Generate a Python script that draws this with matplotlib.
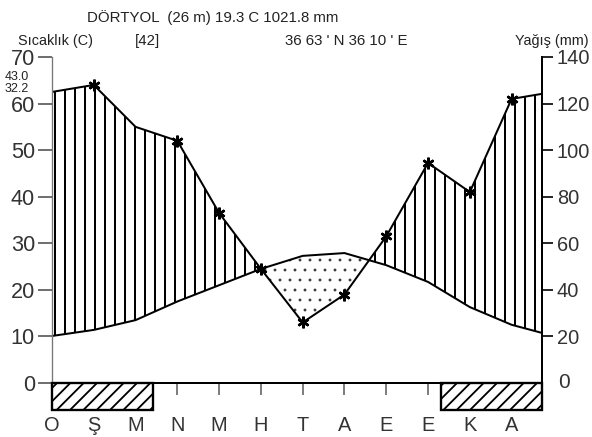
import matplotlib
matplotlib.use('Agg')
import matplotlib.pyplot as plt
import numpy as np
from matplotlib.patches import Rectangle

# ---- data ----
months = ['O', 'Ş', 'M', 'N', 'M', 'H', 'T', 'A', 'E', 'E', 'K', 'A']
temp = [10.1, 11.4, 13.5, 17.5, 21.0, 24.5, 27.3, 27.9, 25.3, 21.7, 16.3, 12.5]
precip = [125, 128, 110, 104, 73, 49, 26, 38, 63, 94.5, 82, 122]
star_months = [1, 3, 4, 5, 6, 7, 8, 9, 10, 11]
frost_spans = [(0.0, 2.42), (9.32, 11.72)]
temp_ticks = [0, 10, 20, 30, 40, 50, 60, 70]
precip_ticks = [20, 40, 60, 80, 100, 120, 140]
title = 'DÖRTYOL  (26 m) 19.3 C 1021.8 mm'
left_label = 'Sıcaklık (C)'
right_label = 'Yağış (mm)'
years_label = '[42]'
coord_label = "36 63 ' N 36 10 ' E"
abs_max = '43.0'
mean_max = '32.2'

plt.rcParams['font.family'] = ['Liberation Sans', 'DejaVu Sans']

DPI = 120
fig = plt.figure(figsize=(592 / DPI, 437 / DPI), dpi=DPI)
ax = fig.add_axes([52 / 592, 1 - 383 / 437, (541.7 - 52) / 592, (383 - 57) / 437])

x = np.arange(13)
T = np.array(temp + [temp[0]])
P = np.array(precip + [precip[0]]) / 2.0

plt.rcParams['hatch.linewidth'] = 1.2
ax.fill_between(x, T, P, where=P >= T, interpolate=True, facecolor='none',
                edgecolor='black', hatch='||', linewidth=0)
plt.rcParams['hatch.linewidth'] = 0.5
ax.fill_between(x, T, P, where=P <= T, interpolate=True, facecolor='none',
                edgecolor='#333333', hatch='..', linewidth=0)
ax.plot(x, T, color='black', lw=1.2, solid_joinstyle='round')
ax.plot(x, P, color='black', lw=1.2, solid_joinstyle='round')
ax.plot(np.array(star_months), P[star_months], linestyle='none', marker=(6, 2, 0),
        markersize=7, markeredgewidth=1.5, color='black')

ax.set_xlim(0, 11.72)
ax.set_ylim(0, 70)

# frost boxes
plt.rcParams['hatch.linewidth'] = 1.1
for a, b in frost_spans:
    ax.add_patch(Rectangle((a, 0), b - a, -5.8, facecolor='white', edgecolor='black',
                           hatch='///', linewidth=1.4, clip_on=False, zorder=5))

ax.spines['top'].set_visible(False)
ax.spines['left'].set_color('#777777')
ax.spines['right'].set_visible(False)
ax.spines['bottom'].set_linewidth(1.2)

ax.set_xticks(range(12))
ax.set_xticklabels(months, fontsize=12, color='#333333')
ax.tick_params(axis='x', length=7, width=1, color='#666666', pad=13)

ax.set_yticks(temp_ticks)
ax.set_yticklabels([str(v) for v in temp_ticks], fontsize=13, color='#333333')
ax.tick_params(axis='y', length=8.4, width=1, color='#555555', pad=1.8)
ax.yaxis.get_major_ticks()[0].tick1line.set_visible(False)

ax2 = ax.twinx()
ax2.set_ylim(0, 140)
for s in ['top', 'left', 'bottom']:
    ax2.spines[s].set_visible(False)
ax2.spines['right'].set_linewidth(1.2)
ax2.set_yticks(precip_ticks)
ax2.set_yticklabels([str(v) for v in precip_ticks], fontsize=12, color='#333333')
ax2.tick_params(axis='y', length=6.6, width=1, color='black', pad=2.5)
ax2.text(1.0 + 16 / 489.7, 0, '0', transform=ax2.get_yaxis_transform(), fontsize=12.5,
         color='#333333', ha='left', va='center')

fig.text(87 / 592, 1 - 18 / 437, title, fontsize=9, color='#222222', ha='left', va='center')
fig.text(18 / 592, 1 - 41 / 437, left_label, fontsize=8.6, color='#222222', ha='left', va='center')
fig.text(135 / 592, 1 - 41 / 437, years_label, fontsize=9, color='#222222', ha='left', va='center')
fig.text(285 / 592, 1 - 41 / 437, coord_label, fontsize=9, color='#222222', ha='left', va='center')
fig.text(589 / 592, 1 - 41 / 437, right_label, fontsize=8.6, color='#222222', ha='right', va='center')
fig.text(5 / 592, 1 - 77 / 437, abs_max, fontsize=7.5, color='#222222', ha='left', va='center')
fig.text(5 / 592, 1 - 89 / 437, mean_max, fontsize=7.5, color='#222222', ha='left', va='center')

fig.savefig('out.png', dpi=DPI)
